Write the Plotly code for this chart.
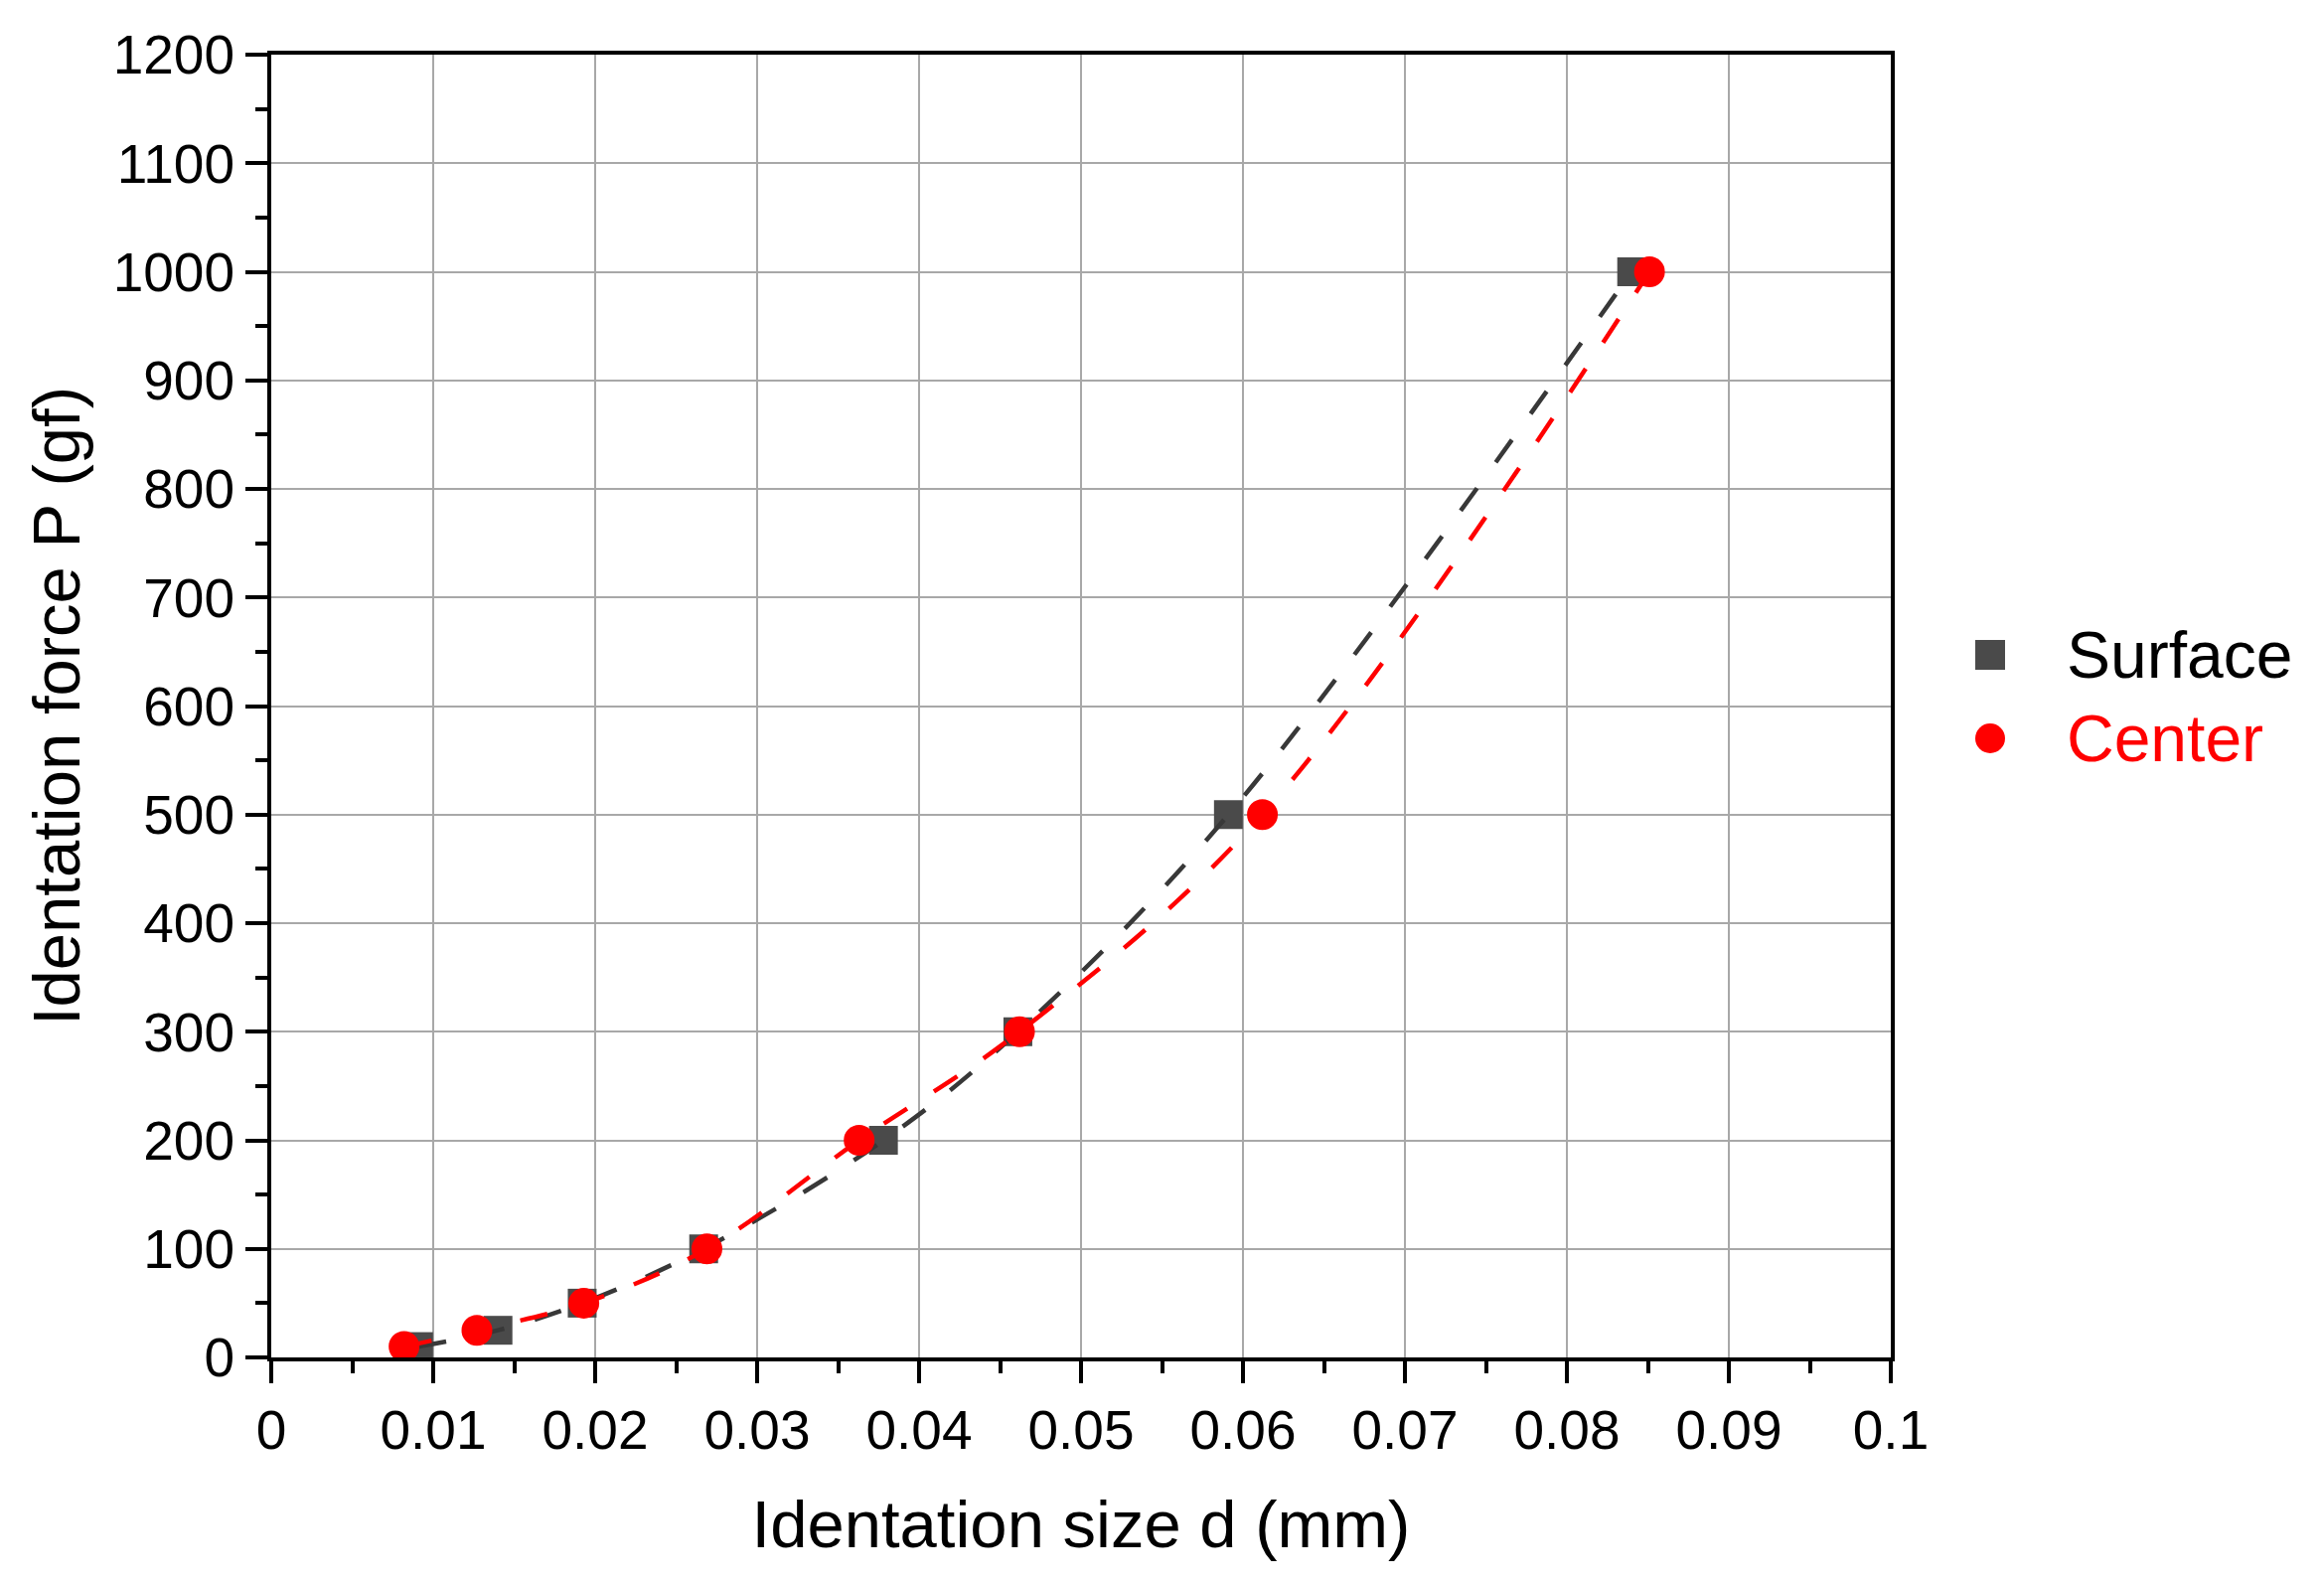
import plotly.graph_objects as go

# ---- data ----
force_gf = [10, 25, 50, 100, 200, 300, 500, 1000]
surface_d_mm = [0.0091, 0.0140, 0.0192, 0.0267, 0.0378, 0.0461, 0.0591, 0.0840]
center_d_mm = [0.0082, 0.0127, 0.0193, 0.0269, 0.0363, 0.0462, 0.0612, 0.0851]

x_tick_vals = [0, 0.01, 0.02, 0.03, 0.04, 0.05, 0.06, 0.07, 0.08, 0.09, 0.1]
x_tick_text = ["0", "0.01", "0.02", "0.03", "0.04", "0.05", "0.06", "0.07", "0.08", "0.09", "0.1"]
y_tick_vals = [0, 100, 200, 300, 400, 500, 600, 700, 800, 900, 1000, 1100, 1200]
y_tick_text = [str(v) for v in y_tick_vals]

series_names = ["Surface", "Center"]
SURF_COLOR = "#4a4a4a"
SURF_LINE = "#383838"
CENT_COLOR = "#ff0000"
FONT = "Arial, 'Liberation Sans', sans-serif"

W, H = 2339, 1593
OFF = 8  # page body margin
L, R, T, B = 265, 444, 47, 235
plot_w = W - L - R
plot_h = H - T - B

fig = go.Figure()

# Surface markers + dashed curve
fig.add_trace(go.Scatter(
    x=surface_d_mm, y=force_gf, mode="markers", name=series_names[0],
    marker=dict(symbol="square", size=29, color=SURF_COLOR, line=dict(width=0)),
    showlegend=False))
fig.add_trace(go.Scatter(
    x=surface_d_mm, y=force_gf, mode="lines", name=series_names[0] + " fit",
    line=dict(color=SURF_LINE, width=4.5, dash="28px,32px", shape="spline"),
    showlegend=False))
# Center markers + dashed curve
fig.add_trace(go.Scatter(
    x=center_d_mm, y=force_gf, mode="markers", name=series_names[1],
    marker=dict(symbol="circle", size=31, color=CENT_COLOR, line=dict(width=0)),
    showlegend=False))
fig.add_trace(go.Scatter(
    x=center_d_mm, y=force_gf, mode="lines", name=series_names[1] + " fit",
    line=dict(color=CENT_COLOR, width=4.5, dash="28px,32px", shape="spline"),
    showlegend=False))

axis_common = dict(
    showline=True, linecolor="black", linewidth=4, mirror=True,
    ticks="outside", ticklen=22, tickwidth=4, tickcolor="black",
    showgrid=True, gridcolor="#a8a8a8", gridwidth=2,
    zeroline=False,
    tickfont=dict(family=FONT, size=55, color="black"),
)

fig.update_xaxes(
    range=[0, 0.1], tickvals=x_tick_vals, ticktext=x_tick_text,
    title=dict(text="Identation size d (mm)", font=dict(family=FONT, size=67, color="black"), standoff=42),
    minor=dict(ticks="outside", ticklen=12, tickwidth=4, tickcolor="black", dtick=0.005, showgrid=False),
    **axis_common)
fig.update_yaxes(
    range=[0, 1200], tickvals=y_tick_vals, ticktext=y_tick_text,
    title=dict(text="Identation force P (gf)", font=dict(family=FONT, size=67, color="black"), standoff=12),
    minor=dict(ticks="outside", ticklen=12, tickwidth=4, tickcolor="black", dtick=50, showgrid=False),
    **axis_common)

# custom legend (symbols drawn as shapes sized in pixels, labels as text)
leg_x = (2003 - OFF - L) / plot_w
leg_text_x = (2078 - OFF - L) / plot_w
leg_y = [(H - B - (659 - OFF)) / plot_h, (H - B - (743 - OFF)) / plot_h]
fig.add_shape(type="rect", xref="paper", yref="paper",
              xsizemode="pixel", ysizemode="pixel", xanchor=leg_x, yanchor=leg_y[0],
              x0=-15, x1=15, y0=-15, y1=15, fillcolor=SURF_COLOR, line=dict(width=0))
fig.add_shape(type="circle", xref="paper", yref="paper",
              xsizemode="pixel", ysizemode="pixel", xanchor=leg_x, yanchor=leg_y[1],
              x0=-15, x1=15, y0=-15, y1=15, fillcolor=CENT_COLOR, line=dict(width=0))
fig.add_annotation(x=leg_text_x, y=leg_y[0], xref="paper", yref="paper",
                   text=series_names[0], showarrow=False, xanchor="left", yanchor="middle",
                   font=dict(family=FONT, size=66, color="black"))
fig.add_annotation(x=leg_text_x, y=leg_y[1], xref="paper", yref="paper",
                   text=series_names[1], showarrow=False, xanchor="left", yanchor="middle",
                   font=dict(family=FONT, size=66, color=CENT_COLOR))

fig.update_layout(
    width=W, height=H,
    margin=dict(l=L, r=R, t=T, b=B, autoexpand=False),
    paper_bgcolor="white", plot_bgcolor="white",
    font=dict(family=FONT, color="black"),
    showlegend=False,
)

fig.write_html("out.html")
